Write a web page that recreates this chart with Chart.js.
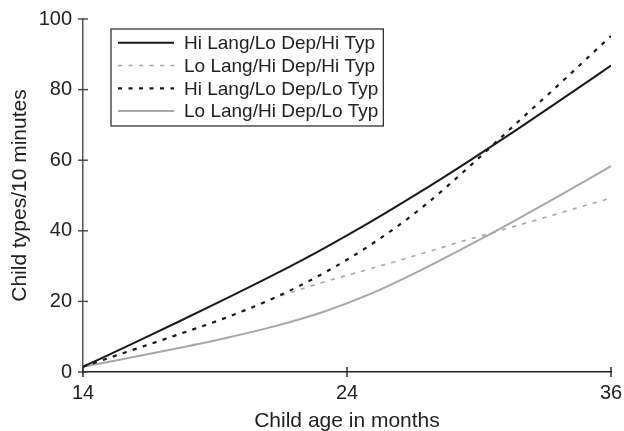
<!DOCTYPE html>
<html>
<head>
<meta charset="utf-8">
<script src="https://cdn.jsdelivr.net/npm/chart.js@4.4.1/dist/chart.umd.min.js"></script>
<style>
  html, body { margin: 0; padding: 0; background: #fff; }
  #wrap { width: 624px; height: 431px; position: relative; }
</style>
</head>
<body>
<div id="wrap"><canvas id="chart"></canvas></div>
<script>
// x positions of the sampled points (axis runs 14..36)
const ageSteps = [14, 16, 18, 20, 22, 24, 26, 28, 30, 32, 34, 36];
// tick marks and their printed labels
const xTickValues = [14, 25, 36];
const xTickLabels = ['14', '24', '36'];

const hiLangLoDepHiTyp = [1.5, 7.8, 14.3, 20.9, 27.7, 34.9, 42.6, 50.8, 59.4, 68.3, 77.5, 86.8];
const loLangHiDepHiTyp = [1.5, 6.1, 10.7, 15.5, 21.0, 25.4, 29.3, 33.3, 37.4, 41.3, 45.3, 49.3];
const hiLangLoDepLoTyp = [1.5, 6.1, 10.7, 15.5, 21.1, 27.9, 36.1, 45.9, 57.6, 70.1, 82.5, 95.2];
const loLangHiDepLoTyp = [1.5, 4.1, 6.8, 9.7, 13.0, 17.0, 22.2, 28.6, 35.6, 42.9, 50.5, 58.3];

const seriesNames = [
  'Hi Lang/Lo Dep/Hi Typ',
  'Lo Lang/Hi Dep/Hi Typ',
  'Hi Lang/Lo Dep/Lo Typ',
  'Lo Lang/Hi Dep/Lo Typ',
];

Chart.defaults.font.family = '"Liberation Sans", Arial, sans-serif';
Chart.defaults.color = '#222';

const toPoints = (vals) => vals.map((v, i) => ({ x: ageSteps[i], y: v }));

// boxed legend inside the plot area, built from the datasets
const boxLegend = {
  id: 'boxLegend',
  afterDraw(chart) {
    const { ctx, chartArea } = chart;
    const left = chartArea.left + 28;
    const top = chartArea.top + 10;
    const rowH = 22.8;
    ctx.save();
    ctx.font = '19px "Liberation Sans", Arial, sans-serif';
    let maxW = 0;
    chart.data.datasets.forEach((ds) => {
      maxW = Math.max(maxW, ctx.measureText(ds.label).width);
    });
    const w = 73 + maxW + 5;
    const h = 97;
    ctx.strokeStyle = '#333';
    ctx.lineWidth = 1.3;
    ctx.strokeRect(left, top, w, h);
    chart.data.datasets.forEach((ds, i) => {
      const y = top + 13.7 + i * rowH;
      ctx.beginPath();
      ctx.setLineDash(ds.borderDash || []);
      ctx.strokeStyle = ds.borderColor;
      ctx.lineWidth = ds.borderWidth;
      ctx.moveTo(left + 7, y);
      ctx.lineTo(left + 63, y);
      ctx.stroke();
      ctx.setLineDash([]);
      ctx.fillStyle = '#222';
      ctx.textBaseline = 'middle';
      ctx.fillText(ds.label, left + 73, y + 1);
    });
    ctx.restore();
  },
};

// tick marks that cross the axis lines
const crossTicks = {
  id: 'crossTicks',
  afterDraw(chart) {
    const { ctx, scales: { x, y } } = chart;
    ctx.save();
    ctx.lineWidth = 1.4;
    ctx.strokeStyle = '#444';
    y.ticks.forEach((t) => {
      const py = y.getPixelForValue(t.value);
      ctx.beginPath();
      ctx.moveTo(x.left - 5, py);
      ctx.lineTo(x.left + 5, py);
      ctx.stroke();
    });
    ctx.strokeStyle = '#222';
    x.ticks.forEach((t) => {
      const px = x.getPixelForValue(t.value);
      ctx.beginPath();
      ctx.moveTo(px, y.bottom - 5);
      ctx.lineTo(px, y.bottom + 5);
      ctx.stroke();
    });
    ctx.restore();
  },
};

new Chart(document.getElementById('chart').getContext('2d'), {
  type: 'line',
  data: {
    datasets: [
      {
        label: seriesNames[0],
        data: toPoints(hiLangLoDepHiTyp),
        borderColor: '#1a1a1a',
        borderWidth: 2,
        order: 0,
      },
      {
        label: seriesNames[1],
        data: toPoints(loLangHiDepHiTyp),
        borderColor: '#a8a8a8',
        borderWidth: 1.6,
        borderDash: [4.3, 6.2],
        order: 2,
      },
      {
        label: seriesNames[2],
        data: toPoints(hiLangLoDepLoTyp),
        borderColor: '#1a1a1a',
        borderWidth: 2.2,
        borderDash: [4, 6.5],
        order: 1,
      },
      {
        label: seriesNames[3],
        data: toPoints(loLangHiDepLoTyp),
        borderColor: '#a8a8a8',
        borderWidth: 2,
        order: 3,
      },
    ],
  },
  options: {
    responsive: true,
    maintainAspectRatio: false,
    animation: false,
    layout: { padding: { left: 0, right: 13, top: 19, bottom: 0 } },
    elements: {
      point: { radius: 0 },
      line: { tension: 0.4, cubicInterpolationMode: 'monotone' },
    },
    plugins: {
      legend: { display: false },
      tooltip: { enabled: false },
    },
    scales: {
      x: {
        type: 'linear',
        min: 14,
        max: 36,
        afterBuildTicks(scale) {
          scale.ticks = xTickValues.map((v) => ({ value: v }));
        },
        afterFit(scale) {
          scale.height = 59;
          scale.paddingLeft = 0;
          scale.paddingRight = 0;
        },
        grid: { display: false, drawTicks: false },
        border: { color: '#222', width: 1.5 },
        ticks: {
          font: { size: 20 },
          padding: 9,
          maxRotation: 0,
          callback: (v) => xTickLabels[xTickValues.indexOf(v)],
        },
        title: {
          display: true,
          text: 'Child age in months',
          font: { size: 21 },
          padding: { top: 0, bottom: -3 },
        },
      },
      y: {
        min: 0,
        max: 100,
        afterFit(scale) {
          scale.width = 83;
          scale.paddingTop = 0;
          scale.paddingBottom = 0;
        },
        grid: { display: false, drawTicks: false },
        border: { color: '#555', width: 1.5 },
        ticks: { stepSize: 20, font: { size: 20 }, padding: 11 },
        title: {
          display: true,
          text: 'Child types/10 minutes',
          font: { size: 21 },
          padding: { top: 8, bottom: 0 },
        },
      },
    },
  },
  plugins: [boxLegend, crossTicks],
});
</script>
</body>
</html>
